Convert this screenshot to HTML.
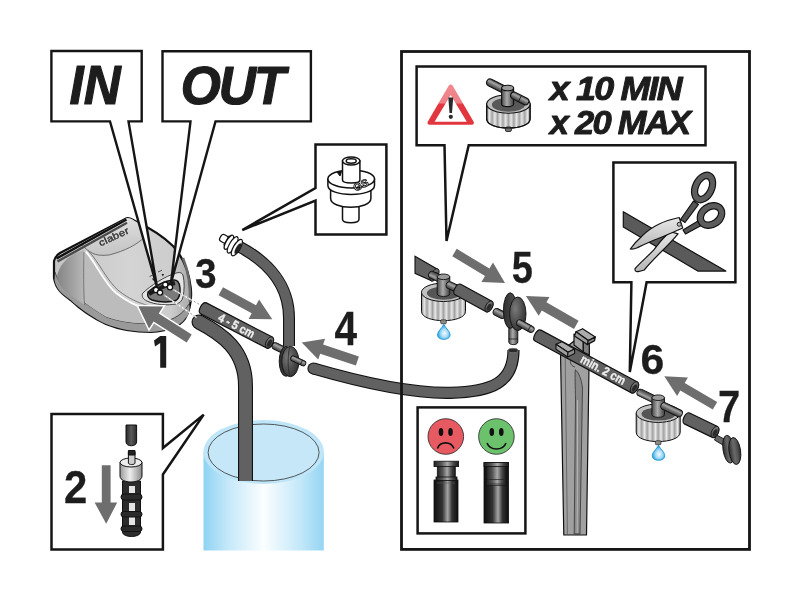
<!DOCTYPE html>
<html><head><meta charset="utf-8"><style>
html,body{margin:0;padding:0;background:#fff;}
svg{display:block;will-change:transform;}
text{font-family:"Liberation Sans",sans-serif;}
</style></head><body>
<svg width="801" height="601" viewBox="0 0 801 601">
<defs>
<linearGradient id="tankg" x1="0" x2="1" y1="0" y2="0">
<stop offset="0" stop-color="#8ed3f3"/><stop offset="0.2" stop-color="#c4e8f9"/><stop offset="0.5" stop-color="#fbfeff"/><stop offset="0.8" stop-color="#c4e8f9"/><stop offset="1" stop-color="#95d5f3"/>
</linearGradient>
<linearGradient id="capg" x1="0" x2="1" y1="0" y2="0">
<stop offset="0" stop-color="#9a9a9a"/><stop offset="0.45" stop-color="#eeeeee"/><stop offset="1" stop-color="#8a8a8a"/>
</linearGradient>
<linearGradient id="tubeg" x1="0" x2="1" y1="0" y2="0">
<stop offset="0" stop-color="#0e0e0e"/><stop offset="0.35" stop-color="#333"/><stop offset="0.57" stop-color="#a5a5a5"/><stop offset="0.75" stop-color="#333"/><stop offset="1" stop-color="#0e0e0e"/>
</linearGradient>
<linearGradient id="sideg" x1="0" x2="1" y1="0" y2="0">
<stop offset="0" stop-color="#858585"/><stop offset="0.7" stop-color="#a8a8a8"/><stop offset="1" stop-color="#b8b8b8"/>
</linearGradient>
<linearGradient id="devg" x1="0" x2="1" y1="0" y2="0">
<stop offset="0" stop-color="#c4c4c4"/><stop offset="0.55" stop-color="#d4d4d4"/><stop offset="0.85" stop-color="#cdcdcd"/><stop offset="1" stop-color="#a8a8a8"/>
</linearGradient>
<linearGradient id="ribg" x1="0" x2="1" y1="0" y2="0">
<stop offset="0.000" stop-color="#8a8a8a"/><stop offset="0.062" stop-color="#e8e8e8"/><stop offset="0.125" stop-color="#a2a2a2"/><stop offset="0.188" stop-color="#e8e8e8"/><stop offset="0.250" stop-color="#a2a2a2"/><stop offset="0.312" stop-color="#e8e8e8"/><stop offset="0.375" stop-color="#a2a2a2"/><stop offset="0.438" stop-color="#e8e8e8"/><stop offset="0.500" stop-color="#a2a2a2"/><stop offset="0.562" stop-color="#e8e8e8"/><stop offset="0.625" stop-color="#a2a2a2"/><stop offset="0.688" stop-color="#e8e8e8"/><stop offset="0.750" stop-color="#a2a2a2"/><stop offset="0.812" stop-color="#e8e8e8"/><stop offset="0.875" stop-color="#a2a2a2"/><stop offset="0.938" stop-color="#e8e8e8"/><stop offset="1.000" stop-color="#8a8a8a"/>
</linearGradient>
<linearGradient id="openg" x1="0" x2="1" y1="0" y2="1">
<stop offset="0" stop-color="#888"/><stop offset="1" stop-color="#333"/>
</linearGradient>
<linearGradient id="partg" x1="0" x2="0" y1="0" y2="1">
<stop offset="0" stop-color="#8a8a8a"/><stop offset="0.5" stop-color="#5a5a5a"/><stop offset="1" stop-color="#3a3a3a"/>
</linearGradient>
<linearGradient id="warng" x1="0" x2="0" y1="0" y2="1">
<stop offset="0" stop-color="#f08a8e"/><stop offset="0.45" stop-color="#ee8086"/><stop offset="0.5" stop-color="#e2363e"/><stop offset="1" stop-color="#e2363e"/>
</linearGradient>
<linearGradient id="barbg" x1="0" x2="0" y1="0" y2="1">
<stop offset="0" stop-color="#444"/><stop offset="0.35" stop-color="#a5a5a5"/><stop offset="0.6" stop-color="#777"/><stop offset="1" stop-color="#383838"/>
</linearGradient>
<linearGradient id="stemg" x1="0" x2="1" y1="0" y2="0">
<stop offset="0" stop-color="#4a4a4a"/><stop offset="0.45" stop-color="#ababab"/><stop offset="0.7" stop-color="#7a7a7a"/><stop offset="1" stop-color="#3e3e3e"/>
</linearGradient>
<linearGradient id="bladeg" x1="0" x2="0" y1="0" y2="1">
<stop offset="0" stop-color="#e8e8e8"/><stop offset="0.5" stop-color="#cfcfcf"/><stop offset="1" stop-color="#b5b5b5"/>
</linearGradient>
<linearGradient id="topg" x1="0" x2="0.3" y1="0" y2="1">
<stop offset="0" stop-color="#e6e6e6"/><stop offset="1" stop-color="#c6c6c6"/>
</linearGradient>
<linearGradient id="plugg" x1="0" x2="1" y1="0" y2="0">
<stop offset="0" stop-color="#2e2e2e"/><stop offset="0.45" stop-color="#6a6a6a"/><stop offset="0.7" stop-color="#555"/><stop offset="1" stop-color="#2a2a2a"/>
</linearGradient>
<linearGradient id="pipeg" x1="0" x2="1" y1="0" y2="0">
<stop offset="0" stop-color="#2a2a2a"/><stop offset="0.5" stop-color="#5a5a5a"/><stop offset="1" stop-color="#2a2a2a"/>
</linearGradient>
<linearGradient id="discg1" x1="0" x2="1" y1="0" y2="0">
<stop offset="0" stop-color="#2e2e2e"/><stop offset="1" stop-color="#555"/>
</linearGradient>
<radialGradient id="discg2" cx="0.35" cy="0.35" r="0.75">
<stop offset="0" stop-color="#7a7a7a"/><stop offset="0.6" stop-color="#4a4a4a"/><stop offset="1" stop-color="#2e2e2e"/>
</radialGradient>
<linearGradient id="neckg" x1="0" x2="1" y1="0" y2="0">
<stop offset="0" stop-color="#222"/><stop offset="0.3" stop-color="#555"/><stop offset="0.55" stop-color="#a8a8a8"/><stop offset="0.8" stop-color="#444"/><stop offset="1" stop-color="#1a1a1a"/>
</linearGradient>
<radialGradient id="dropg" cx="0.55" cy="0.6" r="0.6">
<stop offset="0" stop-color="#f4fbff"/><stop offset="0.45" stop-color="#a8dcf6"/><stop offset="0.8" stop-color="#45b4ea"/><stop offset="1" stop-color="#1a8fd0"/>
</radialGradient>
</defs>

<g fill="#fff" stroke="#151515" stroke-width="2.5" stroke-linejoin="miter">
<path d="M315.5 144.5 H386.4 V234.4 H315.5 V200.5 L242.3 230 L315.5 188 Z"/>
<path d="M51.5 414 H162.9 V448 L203.7 414.6 L162.9 474.5 V549.4 H51.5 Z"/>
<path d="M416.6 66.4 H705.5 V145.3 H468.7 L446.5 241 L444.5 145.3 H416.6 Z"/>
<path d="M613.4 162.4 H735.4 V282.3 H646.6 L629.8 372 L631.4 282.3 H613.4 Z"/>
<rect x="417.6" y="407.4" width="107.8" height="126"/>
</g>
<g id="tank">
<path d="M203.5 452 L203.5 550.5 L323.8 550.5 L323.8 452 Z" fill="url(#tankg)"/>
<ellipse cx="263.6" cy="452" rx="60.2" ry="32" fill="#bfe5f8"/>
<ellipse cx="263.6" cy="452.5" rx="55.5" ry="28.5" fill="#c6e7f8" stroke="#333" stroke-width="0.8"/>
</g>
<path d="M199 322 C222 334 245.5 350 245.5 386 L245.5 481" fill="none" stroke="#111" stroke-width="15.0"/>
<circle cx="199.0" cy="322.0" r="7.5" fill="#111"/>
<circle cx="199.0" cy="322.0" r="6.4" fill="#616161"/>
<path d="M199 322 C222 334 245.5 350 245.5 386 L245.5 481" fill="none" stroke="#616161" stroke-width="12.8"/>
<path d="M240 247 C268 262 289 285 289 318 L289 346" fill="none" stroke="#111" stroke-width="12.0"/>
<path d="M240 247 C268 262 289 285 289 318 L289 346" fill="none" stroke="#616161" stroke-width="9.8"/>
<path d="M313.5 368.5 C360 382 410 393.5 450 392.8 C493 392 513.5 382 513.5 350" fill="none" stroke="#111" stroke-width="12.2"/>
<circle cx="313.5" cy="368.5" r="6.1" fill="#111"/>
<circle cx="313.5" cy="368.5" r="5.0" fill="#616161"/>
<path d="M313.5 368.5 C360 382 410 393.5 450 392.8 C493 392 513.5 382 513.5 350" fill="none" stroke="#616161" stroke-width="10.0"/>
<ellipse cx="513" cy="350.5" rx="5" ry="2.2" fill="#2a2a2a" stroke="#777" stroke-width="0.8"/>
<g id="device">
<path d="M54 261 C55 257 57 255 60 253 L126.5 218.2 C129 217.5 132 219 134 220.5 C150 228 165 238 173 246 C183 257 189 272 190.8 288 C192 300 190 310 185 318.7 C180 326 168 331 151 332 C135 332 118 329 106 324 C95 319 80 309 70.6 300 C62 294 56 289 54 278 Z" fill="url(#devg)" stroke="#111" stroke-width="2.2"/>
<path d="M55 272 C58 282 65 290 72 294 C85 303 95 310 106 316.8 C120 322 135 324 153 323.4 C170 322 182 316 189 304 L189.5 306 C190 312 188 316 185 318.7 C180 326 168 331 151 332 C135 332 118 329 106 324 C95 319 80 309 70.6 300 C62 294 56 289 54.5 280 Z" fill="#9a9a9a"/>
<path d="M55 272 C58 282 65 290 72 294 C85 303 95 310 106 316.8 C120 322 135 324 153 323.4 C170 322 182 316 189 304" fill="none" stroke="#333" stroke-width="0.8"/>
<path d="M85.8 251.6 C96 263 104 283 116 293 C125 300 135 306 147 309 L150 323 C135 324 120 322 106 316.8 C95 310 85 303 78 298 Z" fill="#bcbcbc"/>
<path d="M84 250 C70 254 60 263 57 276 C58 285 64 291 72 296 C76 299 80 302 84.5 305 C83.5 285 83.5 265 84 250 Z" fill="url(#sideg)"/>
<path d="M84 252 C83.5 270 83.5 290 84.5 305" fill="none" stroke="#666" stroke-width="0.8"/>
<path d="M85.8 251.6 C96 263 104 283 116 293 C125 300 135 306 147 309" fill="none" stroke="#fff" stroke-width="1.8"/>
<path d="M88.5 251 C99 262 107 281 119 291 C128 298 138 303 150 306" fill="none" stroke="#555" stroke-width="0.7"/>
<path d="M58 256 L126.5 218.2 C129 217.5 132 219 134 220.5 L148 228.5 C147 233 146 236 144.2 237.5 C137 244.5 125 251 109.3 254.9 C102 256 96 255 92.5 253.2 C88 251 85 248 82.4 245.3 Z" fill="url(#topg)"/>
<path d="M82.4 245.3 C85 248 88 251 92.5 253.2 C96 255 102 256 109.3 254.9 C125 251 137 244.5 144.2 237.5" fill="none" stroke="#555" stroke-width="0.8"/>
<path d="M56.5 258.5 L126.5 219.5" stroke="#111" stroke-width="2.4"/>
<path d="M57.5 261.5 L127 222.8" stroke="#4a4a4a" stroke-width="2.4"/>
<text x="0" y="0" transform="translate(100.5 246.5) rotate(-25) scale(1.2 1)" font-size="9.5" letter-spacing="0.2" fill="#333" stroke="#333" stroke-width="0.35">claber</text>
<path d="M142.7 293.2 C150 286 165 276 177 272.8 C180.5 272 182.5 273 183.2 276 C184.5 282 184.5 290 183 297 C182 301 180 303 176 304 C168 305.5 155 305 147 301 C142.5 299 141.5 296 142.7 293.2 Z" fill="#e4e4e4" stroke="#333" stroke-width="0.9"/>
<path d="M148 292 C155 286 165 281 173.2 280 C177 279.5 179.5 282 180 288 C180.5 294 179 298.5 176 300.5 C171 302.5 160 302.5 152 300 C148.5 298.8 147 296 148 292 Z" fill="#7a7a7a" stroke="#111" stroke-width="1.4"/>
<path d="M149 294 C157 289 166 285 175 283" fill="none" stroke="#1a1a1a" stroke-width="4"/>
<g fill="#fff" stroke="#111" stroke-width="1.3">
<circle cx="156" cy="290" r="2.6"/><circle cx="160" cy="292.6" r="2.6"/><circle cx="165.3" cy="284.6" r="2.6"/><circle cx="170" cy="287.3" r="2.6"/>
</g>
<path d="M152 278.5 l2.6 0 l-1.3 2.4 z M161.5 274 l2.6 0 l-1.3 2.4 z" fill="#222"/>
<path d="M149.5 276.5 l3 -1.3 M158 272 l4 -1.8" stroke="#333" stroke-width="0.8"/>
<path d="M183 258 C188 270 190.5 285 190 302" fill="none" stroke="#6a6a6a" stroke-width="2.5"/>
</g>
<path d="M173 289.5 L201 305.3 M164 295 L196.5 317.5" stroke="#fff" stroke-width="1.4"/>
<path d="M173 289.5 L201 305.3 M164 295 L196.5 317.5" stroke="#9a9a9a" stroke-width="1" stroke-dasharray="2 2"/>
<g fill="#fff" stroke="#111" stroke-width="1.5">
<path d="M342.5 200 V219.3 C342.5 224 359 224 359 219.3 V200 Z"/>
<path d="M330.6 189 V198.3 C330.6 210.3 370.9 210.3 370.9 198.3 V189 Z"/>
<path d="M327.9 178.9 V185.4 C327.9 197.4 374.5 197.4 374.5 185.4 V178.9 Z"/>
<ellipse cx="351.2" cy="178.9" rx="23.3" ry="9"/>
<path d="M342.5 161 V180 C342.5 184 359.9 184 359.9 180 V161 Z"/>
<ellipse cx="351.2" cy="161" rx="8.7" ry="4"/>
<ellipse cx="351.2" cy="161" rx="5" ry="2.2"/>
<path d="M337 172 L341.5 171.5 L340 176 Z" fill="#111" stroke-width="1"/>
<text x="0" y="0" transform="translate(355.5 191.5) rotate(-25)" font-size="10.5" font-weight="bold" fill="#fff" stroke="#111" stroke-width="0.9">GS</text>
</g>
<g transform="translate(239.5 248) rotate(30.7)" stroke="#111" stroke-width="1.2" fill="#fff">
<rect x="-22" y="-3.8" width="8" height="7.6" rx="2.5"/>
<rect x="-15" y="-5" width="14" height="10" />
<ellipse cx="-12" cy="0.5" rx="2.8" ry="8"/>
<ellipse cx="-7.5" cy="0.8" rx="3.2" ry="9.3"/>
<ellipse cx="-2.5" cy="1" rx="3.4" ry="9.3"/>
<ellipse cx="-1" cy="1.2" rx="2.2" ry="6" fill="#222" stroke="none"/>
</g>
<g stroke="#111" stroke-width="0.9">
<g transform="translate(272.5 344.6) rotate(27)"><rect x="0" y="-3.4" width="13" height="6.8" rx="3" fill="url(#barbg)"/></g>
<ellipse cx="286" cy="361.3" rx="6.8" ry="15" fill="url(#discg1)"/>
<ellipse cx="290.3" cy="361.5" rx="8.6" ry="15.2" fill="url(#discg2)"/>
<path d="M290 347 C287.5 352 287.5 371 290 376" fill="none" stroke="#2a2a2a" stroke-width="0.8"/>
<g transform="translate(291 357.5) rotate(25)"><rect x="0" y="-2.7" width="16" height="5.4" rx="2.4" fill="url(#barbg)"/><path d="M11.5 -2.7 V2.7" stroke-width="0.7"/></g>
</g>
<g stroke="#111" stroke-width="1">
<path d="M126 425 H136.6 V442 C136.6 447 126 447 126 442 Z" fill="url(#pipeg)"/>
<path d="M122.5 481 H140.5 V532 C140.5 538 122.5 538 122.5 532 Z" fill="#2c2c2c"/>
<g fill="#e4e4e4" stroke="none">
<rect x="129" y="486" width="6" height="7"/><rect x="129" y="503" width="6" height="8"/><rect x="129" y="517" width="6" height="8"/>
</g>
<g fill="#2a2a2a" stroke="#111" stroke-width="1">
<rect x="121" y="494" width="21" height="6" rx="3"/><rect x="121" y="511.5" width="21" height="5.5" rx="2.7"/><rect x="121" y="526" width="21" height="5.5" rx="2.7"/>
</g>
<path d="M120 462.5 V476 C120 484 142 484 142 476 V462.5 Z" fill="url(#capg)"/>
<ellipse cx="131" cy="462.5" rx="11" ry="4.5" fill="#ececec"/>
<path d="M128.4 452 H135 V463 C135 465 128.4 465 128.4 463 Z" fill="#cfcfcf"/>
<path d="M128.4 450.5 H135 V455 H128.4 Z" fill="#222"/>
</g>
<g transform="translate(200.5 306.8) rotate(27.42)">
<path d="M 3.4 -6.2 C -1.0 -6.2 -1.0 6.2 3.4 6.2 L 77.7 6.2 A 3.4 6.2 0 0 0 77.7 -6.2 Z" fill="#616161" stroke="#111" stroke-width="1.2"/>
<ellipse cx="77.7" cy="0" rx="3.4" ry="6.2" fill="url(#openg)" stroke="#111" stroke-width="0.8"/>
<ellipse cx="78.0" cy="0.5" rx="1.9" ry="3.8" fill="#2a2a2a"/>
<text x="23.9" y="4.3" font-size="12.0" font-weight="bold" fill="#eeeeee" stroke="#eeeeee" stroke-width="0.35" transform="scale(0.88 1)">4 - 5 cm</text>
</g>
<path d="M415 256.2 L437.5 269.3 L431 280.5 L415 273.3 Z" fill="#616161" stroke="#111" stroke-width="1.1"/>
<g transform="translate(434.5 275) rotate(30.3)"><ellipse cx="0" cy="0" rx="3.5" ry="7" fill="url(#openg)" stroke="#111" stroke-width="0.8"/><ellipse cx="0.3" cy="0.5" rx="2" ry="4.2" fill="#2a2a2a"/></g>
<g>
<path d="M421.5 292.3 V311.3 C421.5 323.8 465.5 323.8 465.5 311.3 V292.3 Z" fill="url(#ribg)" stroke="#111" stroke-width="1"/>
<ellipse cx="443.5" cy="292.3" rx="22" ry="9.2" fill="#c2c2c2" stroke="#111" stroke-width="1"/>
<ellipse cx="443.8" cy="293.1" rx="17" ry="6.6" fill="#555"/>
<rect x="440.7" y="319.8" width="5.6" height="4" rx="1" fill="#8a8a8a" stroke="#111" stroke-width="0.6"/>
<g transform="translate(443.5 280.3) rotate(205.5)"><rect x="0" y="-3.6" width="16.0" height="7.2" rx="3.2" fill="url(#barbg)" stroke="#111" stroke-width="0.9"/></g>
<path d="M437.2 276.8 V293.8 C437.2 297.3 449.8 297.3 449.8 293.8 V276.8 Z" fill="url(#stemg)" stroke="#111" stroke-width="0.9"/>
<ellipse cx="443.5" cy="276.8" rx="6.3" ry="2.8" fill="#9a9a9a" stroke="#111" stroke-width="0.9"/>
<g transform="translate(446.5 283.8) rotate(25.5)"><rect x="0" y="-3.6" width="14.0" height="7.2" rx="3.2" fill="url(#barbg)" stroke="#111" stroke-width="0.9"/></g>
<path d="M443.8 324.3 C441.2 329.3 437.6 331.3 437.6 334.8 C437.6 337.8 440.2 339.3 443.8 339.3 C447.4 339.3 450.0 337.8 450.0 334.8 C450.0 331.3 446.4 329.3 443.8 324.3 Z" fill="url(#dropg)" stroke="#1a8fd0" stroke-width="0.9"/>
</g>
<g transform="translate(455.0 288.0) rotate(28.55)">
<path d="M 3.3 -6.0 C -1.0 -6.0 -1.0 6.0 3.3 6.0 L 38.7 6.0 A 3.3 6.0 0 0 0 38.7 -6.0 Z" fill="#616161" stroke="#111" stroke-width="1.2"/>
<ellipse cx="38.7" cy="0" rx="3.3" ry="6.0" fill="url(#openg)" stroke="#111" stroke-width="0.8"/>
<ellipse cx="39.0" cy="0.5" rx="1.8" ry="3.6" fill="#2a2a2a"/>
</g>
<g stroke="#111" stroke-width="0.9">
<g transform="translate(493.5 310.5) rotate(27)"><rect x="0" y="-3.6" width="13" height="7.2" rx="3.2" fill="url(#barbg)"/></g>
<path d="M508.8 326 V342 C508.8 345.5 517.8 345.5 517.8 342 V326 Z" fill="url(#stemg)"/>
<path d="M508.8 339 H517.8" stroke-width="0.7"/>
<ellipse cx="510.2" cy="310.6" rx="6.8" ry="17.8" fill="url(#discg1)"/>
<ellipse cx="517.8" cy="313.8" rx="8.2" ry="16.8" fill="url(#discg2)"/>
<g transform="translate(517 321.5) rotate(29)"><rect x="0" y="-3.3" width="19" height="6.6" rx="3" fill="url(#barbg)"/><path d="M14 -3.3 V3.3" stroke-width="0.7"/></g>
</g>
<g stroke="#111" stroke-width="1.2" stroke-linejoin="round">
<path d="M560.5 352 L574 341 L589.3 347 L586.5 535 L563.8 535 Z" fill="#a0a0a0"/>
<path d="M565.2 358 L567.4 534" stroke="#5a5a5a" stroke-width="0.8" fill="none"/>
<path d="M575.3 369.8 C578.5 372 581.5 379 582.5 388 L580 534 L574.2 534 L575.5 400 C575.3 385 574.8 375 575.3 369.8 Z" fill="#8a8a8a" stroke="#333" stroke-width="0.8"/>
<path d="M577.6 400 L577.2 533" stroke="#b8b8b8" stroke-width="1" fill="none"/>
<path d="M572 357 C569 360 570 366 575 367" fill="none" stroke="#333" stroke-width="0.8"/>
<path d="M574 334 L583.3 341 L583.3 352 L574 345 Z" fill="#a4a4a4"/>
<path d="M583.3 341 L589.3 344 L589.3 355 L583.3 352 Z" fill="#7e7e7e"/>
<path d="M576 331.7 L582.6 328.7 L595.3 337 L588.3 340.6 Z" fill="#acacac"/>
<path d="M576 331.7 L588.3 340.6 L587.3 344.6 L574.5 336 Z" fill="#9c9c9c"/>
<path d="M588.3 340.6 L595.3 337 L594.6 340.6 L587.3 344.6 Z" fill="#8a8a8a"/>
</g>
<g transform="translate(535.0 334.0) rotate(28.22)">
<path d="M 3.4 -6.2 C -1.0 -6.2 -1.0 6.2 3.4 6.2 L 112.9 6.2 A 3.4 6.2 0 0 0 112.9 -6.2 Z" fill="#616161" stroke="#111" stroke-width="1.2"/>
<ellipse cx="112.9" cy="0" rx="3.4" ry="6.2" fill="url(#openg)" stroke="#111" stroke-width="0.8"/>
<ellipse cx="113.2" cy="0.5" rx="1.9" ry="3.8" fill="#2a2a2a"/>
<text x="61.8" y="3.6" font-size="12.5" font-weight="bold" fill="#eeeeee" stroke="#eeeeee" stroke-width="0.35" transform="scale(0.85 1)">min. 2 cm</text>
</g>
<g stroke="#111" stroke-width="1.1" stroke-linejoin="round">
<path d="M556 344.3 L562 341.7 L574.6 349 L568 352.3 Z" fill="#acacac"/>
<path d="M556 344.3 L568 352.3 L567.6 357 L556 349.3 Z" fill="#9c9c9c"/>
<path d="M568 352.3 L574.6 349 L574.6 353.5 L567.6 357 Z" fill="#8a8a8a"/>
</g>
<g>
<path d="M636.2 413.2 V432.2 C636.2 444.7 680.2 444.7 680.2 432.2 V413.2 Z" fill="url(#ribg)" stroke="#111" stroke-width="1"/>
<ellipse cx="658.2" cy="413.2" rx="22" ry="9.2" fill="#c2c2c2" stroke="#111" stroke-width="1"/>
<ellipse cx="658.5" cy="414.0" rx="17" ry="6.6" fill="#555"/>
<rect x="655.4" y="440.7" width="5.6" height="4" rx="1" fill="#8a8a8a" stroke="#111" stroke-width="0.6"/>
<g transform="translate(658.2 401.2) rotate(205.5)"><rect x="0" y="-3.6" width="23.0" height="7.2" rx="3.2" fill="url(#barbg)" stroke="#111" stroke-width="0.9"/></g>
<path d="M651.9 397.7 V414.7 C651.9 418.2 664.5 418.2 664.5 414.7 V397.7 Z" fill="url(#stemg)" stroke="#111" stroke-width="0.9"/>
<ellipse cx="658.2" cy="397.7" rx="6.3" ry="2.8" fill="#9a9a9a" stroke="#111" stroke-width="0.9"/>
<g transform="translate(661.2 404.7) rotate(25.5)"><rect x="0" y="-3.6" width="23.0" height="7.2" rx="3.2" fill="url(#barbg)" stroke="#111" stroke-width="0.9"/></g>
<path d="M658.5 445.2 C655.9 450.2 652.3 452.2 652.3 455.7 C652.3 458.7 654.9 460.2 658.5 460.2 C662.1 460.2 664.7 458.7 664.7 455.7 C664.7 452.2 661.1 450.2 658.5 445.2 Z" fill="url(#dropg)" stroke="#1a8fd0" stroke-width="0.9"/>
</g>
<g transform="translate(684.0 417.0) rotate(25.82)">
<path d="M 3.3 -6.0 C -1.0 -6.0 -1.0 6.0 3.3 6.0 L 34.4 6.0 A 3.3 6.0 0 0 0 34.4 -6.0 Z" fill="#616161" stroke="#111" stroke-width="1.2"/>
<ellipse cx="34.4" cy="0" rx="3.3" ry="6.0" fill="url(#openg)" stroke="#111" stroke-width="0.8"/>
<ellipse cx="34.7" cy="0.5" rx="1.8" ry="3.6" fill="#2a2a2a"/>
</g>
<g stroke="#111" stroke-width="0.9">
<path d="M716.5 435 L727 440.5 L724.5 446 L714.5 440 Z" fill="#666"/>
<ellipse cx="728.6" cy="449.2" rx="5.6" ry="14" transform="rotate(-8 728.6 449.2)" fill="url(#plugg)"/>
<ellipse cx="734.8" cy="451" rx="5.8" ry="13.6" transform="rotate(-8 734.8 451)" fill="url(#plugg)"/>
</g>
<g stroke="#111" stroke-width="1.2" stroke-linejoin="round">
<path d="M623.3 211.7 L725.8 271.1 L697.8 271.1 L623.3 226.9 Z" fill="#5a5a5a"/>
<path d="M669.9 231.5 C663 238 658 244 653.6 250.1 C648 256 640 263 634.9 268.8 C635 271 636 272 638 271.6 C641 271 643 270.5 644.2 270 C650 263 655 258 660.5 252.5 C667 246 673 240 678 233.8 Z" fill="url(#bladeg)"/>
<path d="M679.2 217.5 C672 219 665 221 658.2 224.5 C651 228 646 232 641.9 236.2 C637 240.5 633 245 630.3 249 C633 249.5 635 248.8 637.3 247.8 C645 244 651 241 658.2 238.5 C666 235 674 232 682.7 228 Z" fill="url(#bladeg)"/>
<circle cx="679.2" cy="224.3" r="2" fill="#bbb" stroke-width="0.9"/>
<path d="M680.5 219.5 L693.5 201 L698.5 204.5 L685 222.5 Z" fill="#555"/>
<path d="M683 230 L700.5 219.5 L703 224.5 L685.5 234 Z" fill="#555"/>
<ellipse cx="703.6" cy="187.5" rx="11" ry="16" transform="rotate(25 703.6 187.5)" fill="#5c5c5c"/>
<ellipse cx="703.6" cy="187.5" rx="5" ry="9.5" transform="rotate(25 703.6 187.5)" fill="#fff"/>
<ellipse cx="711" cy="215.5" rx="12" ry="14.5" transform="rotate(55 711 215.5)" fill="#5c5c5c"/>
<ellipse cx="711" cy="215.5" rx="5.5" ry="8.5" transform="rotate(55 711 215.5)" fill="#fff"/>
</g>
<path d="M448.5 86 C449.7 84 451.7 84 452.9 86 L473.5 121.5 C474.5 123.5 473.8 124.7 471.5 124.7 L429.9 124.7 C427.6 124.7 426.9 123.5 427.9 121.5 Z" fill="url(#warng)"/>
<path d="M450.7 95 L466.8 121.7 L434.6 121.7 Z" fill="#fff"/>
<path d="M448.3 97.5 L453.2 97.5 L452 113 L449.5 113 Z" fill="#2a2a2a"/>
<circle cx="450.8" cy="116.8" r="2.1" fill="#2a2a2a"/>
<g stroke="#111" stroke-width="1.1">
<path d="M486.7 104 V119 C486.7 131 530.1 131 530.1 119 V104 Z" fill="url(#ribg)"/>
<rect x="505.4" y="127" width="6" height="4.5" rx="1.5" fill="#777" stroke-width="0.8"/>
<path d="M486.7 104 V119 C486.7 131 530.1 131 530.1 119 V104 Z" fill="none"/>
<ellipse cx="508.4" cy="104" rx="21.7" ry="9.3" fill="#bdbdbd"/>
<ellipse cx="508.4" cy="104.8" rx="16.5" ry="7" fill="#585858" stroke="none"/>
<g transform="translate(487 81) rotate(27)"><rect x="0" y="-3.6" width="26" height="7.2" rx="3.3" fill="url(#barbg)"/></g>
<path d="M501.6 88 V104 C501.6 107.5 513.6 107.5 513.6 104 V88 Z" fill="url(#stemg)"/>
<ellipse cx="507.6" cy="88" rx="6" ry="2.8" fill="#9a9a9a"/>
<g transform="translate(511 94) rotate(27)"><rect x="0" y="-3.5" width="19.5" height="7" rx="3.3" fill="url(#barbg)"/><path d="M10 -3.5 V3.5" stroke-width="0.8"/></g>
</g>
<circle cx="445.8" cy="436.5" r="17.8" fill="#e85a62" stroke="#222" stroke-width="0.8"/>
<ellipse cx="441" cy="432" rx="2.3" ry="4" fill="#111"/><ellipse cx="450.5" cy="432" rx="2.3" ry="4" fill="#111"/>
<path d="M437.5 448.5 C440 441 451 441 454 448.5" fill="none" stroke="#111" stroke-width="1.6"/>
<circle cx="496.4" cy="436.5" r="17.8" fill="#6cc26c" stroke="#222" stroke-width="0.8"/>
<ellipse cx="491.8" cy="432" rx="2.3" ry="4" fill="#111"/><ellipse cx="501.3" cy="432" rx="2.3" ry="4" fill="#111"/>
<path d="M487 443 C490 451 503 451 506 443" fill="none" stroke="#111" stroke-width="1.6"/>
<g stroke="#111" stroke-width="0.8">
<rect x="434" y="480" width="24" height="42" fill="url(#tubeg)"/>
<rect x="437.3" y="466" width="18" height="13" fill="url(#neckg)"/>
<rect x="436" y="477" width="21" height="3.5" fill="url(#neckg)"/>
<rect x="434" y="461.2" width="24.6" height="5.4" fill="url(#neckg)"/>
<path d="M437 483 H455" stroke="#555" stroke-width="0.6"/>
<rect x="484" y="462.6" width="24.6" height="60.4" fill="url(#tubeg)"/>
<rect x="486.5" y="466.5" width="19.6" height="19" fill="url(#neckg)" stroke-width="0.6"/>
<path d="M487 479.5 H506 M488 484 H505" stroke="#222" stroke-width="0.7"/>
<rect x="484" y="462.6" width="24.6" height="4" fill="url(#neckg)"/>
</g>
<path d="M191.7 334.5 L158.7 313.5 L163.1 306.5 L138.4 306.2 L149.1 328.4 L153.6 321.5 L186.7 342.5 Z" fill="#6e6e6e" stroke="#fff" stroke-width="3.0" stroke-linejoin="miter"/>
<path d="M191.7 334.5 L158.7 313.5 L163.1 306.5 L138.4 306.2 L149.1 328.4 L153.6 321.5 L186.7 342.5 Z" fill="#6e6e6e"/>
<path d="M218.6 295.2 L251.7 313.2 L248.6 318.9 L272.3 319.3 L259.1 299.6 L256.0 305.3 L223.0 287.2 Z" fill="#6e6e6e"/>
<path d="M358.9 356.4 L323.1 344.6 L325.1 338.7 L301.7 342.6 L318.2 359.6 L320.2 353.7 L355.9 365.4 Z" fill="#6e6e6e"/>
<path d="M452.3 256.2 L485.0 275.9 L481.4 281.9 L505.0 283.0 L493.0 262.6 L489.4 268.6 L456.7 248.8 Z" fill="#6e6e6e"/>
<path d="M578.6 320.8 L546.4 302.3 L549.5 297.0 L525.9 295.9 L538.7 315.7 L541.8 310.4 L574.0 329.0 Z" fill="#6e6e6e"/>
<path d="M717.2 401.9 L684.7 383.0 L687.9 377.5 L664.3 376.3 L677.1 396.1 L680.3 390.6 L712.8 409.5 Z" fill="#6e6e6e"/>
<path d="M101.8 465.2 H110.6 V502.5 H117.2 L106.2 523.8 L94.6 502.5 H101.8 Z" fill="#6e6e6e"/>
<g fill="#fff" stroke="#151515" stroke-width="2.4" stroke-linejoin="miter">
<path d="M51.4 51 H141.7 V121.4 H128.5 L157 287 L110 121.4 H51.4 Z"/>
<path d="M162.5 51.2 H310.9 V121.4 H215.5 L171 283 L190.5 121.4 H162.5 Z"/>
<rect fill="none" stroke-width="2.8" x="401.5" y="51.5" width="348" height="497.9"/>
</g>
<path d="M160.2 336 H166.2 V367.8 H160.2 V343 L155 346.5 L154 340.5 Z" fill="#1d1d1d"/>
<text x="0" y="0" transform="translate(64.04 502.50) scale(0.4184 0.4571)" font-size="100" font-weight="bold" font-style="normal" letter-spacing="0" fill="#1d1d1d" stroke="#1d1d1d" stroke-width="0.57" stroke-linejoin="round">2</text>
<text x="0" y="0" transform="translate(194.92 288.47) scale(0.3880 0.4268)" font-size="100" font-weight="bold" font-style="normal" letter-spacing="0" fill="#1d1d1d" stroke="#1d1d1d" stroke-width="0.61" stroke-linejoin="round">3</text>
<text x="0" y="0" transform="translate(334.59 345.30) scale(0.4056 0.4739)" font-size="100" font-weight="bold" font-style="normal" letter-spacing="0" fill="#1d1d1d" stroke="#1d1d1d" stroke-width="0.57" stroke-linejoin="round">4</text>
<text x="0" y="0" transform="translate(511.76 282.56) scale(0.3800 0.4429)" font-size="100" font-weight="bold" font-style="normal" letter-spacing="0" fill="#1d1d1d" stroke="#1d1d1d" stroke-width="0.61" stroke-linejoin="round">5</text>
<text x="0" y="0" transform="translate(640.61 373.77) scale(0.4286 0.4254)" font-size="100" font-weight="bold" font-style="normal" letter-spacing="0" fill="#1d1d1d" stroke="#1d1d1d" stroke-width="0.59" stroke-linejoin="round">6</text>
<text x="0" y="0" transform="translate(718.00 421.70) scale(0.4000 0.4486)" font-size="100" font-weight="bold" font-style="normal" letter-spacing="0" fill="#1d1d1d" stroke="#1d1d1d" stroke-width="0.59" stroke-linejoin="round">7</text>
<text x="0" y="0" transform="translate(69.49 104.25) scale(0.5118 0.5493)" font-size="100" font-weight="bold" font-style="italic" letter-spacing="0" fill="#1d1d1d" stroke="#1d1d1d" stroke-width="2.26" stroke-linejoin="round">IN</text>
<text x="0" y="0" transform="translate(180.74 103.82) scale(0.5159 0.5397)" font-size="100" font-weight="bold" font-style="italic" letter-spacing="-4" fill="#1d1d1d" stroke="#1d1d1d" stroke-width="2.27" stroke-linejoin="round">OUT</text>
<text x="0" y="0" transform="translate(549.75 99.93) scale(0.3584 0.3370)" font-size="100" font-weight="bold" font-style="italic" letter-spacing="-5" fill="#1d1d1d" stroke="#1d1d1d" stroke-width="2.88" stroke-linejoin="round">x 10 MIN</text>
<text x="0" y="0" transform="translate(549.67 133.83) scale(0.3455 0.3356)" font-size="100" font-weight="bold" font-style="italic" letter-spacing="-5" fill="#1d1d1d" stroke="#1d1d1d" stroke-width="2.94" stroke-linejoin="round">x 20 MAX</text>
</svg>
</body></html>
